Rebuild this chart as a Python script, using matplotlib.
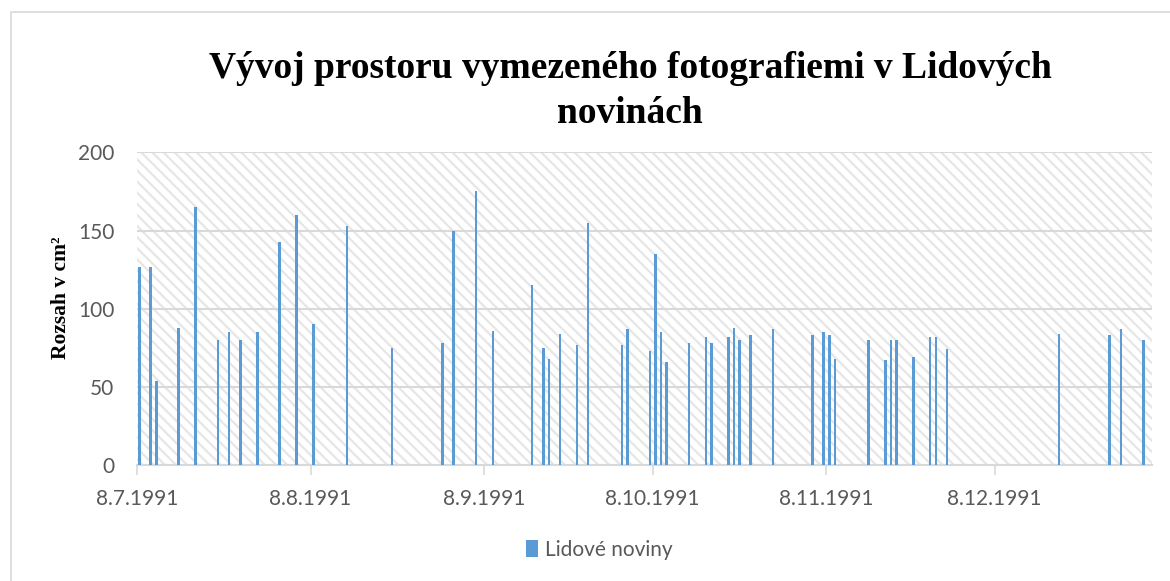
import numpy as np
import matplotlib.pyplot as plt
import matplotlib.dates as mdates
from matplotlib.patches import Rectangle

dates = ["1991-07-08", "1991-07-10", "1991-07-11", "1991-07-15", "1991-07-18",
         "1991-07-22", "1991-07-24", "1991-07-26", "1991-07-29", "1991-08-02",
         "1991-08-05", "1991-08-08", "1991-08-14", "1991-08-22", "1991-08-31",
         "1991-09-02", "1991-09-06", "1991-09-09", "1991-09-16", "1991-09-18",
         "1991-09-19", "1991-09-21", "1991-09-24", "1991-09-26", "1991-10-02",
         "1991-10-03", "1991-10-07", "1991-10-08", "1991-10-09", "1991-10-10",
         "1991-10-14", "1991-10-17", "1991-10-18", "1991-10-21", "1991-10-22",
         "1991-10-23", "1991-10-25", "1991-10-29", "1991-11-05", "1991-11-07",
         "1991-11-08", "1991-11-09", "1991-11-15", "1991-11-18", "1991-11-19",
         "1991-11-20", "1991-11-23", "1991-11-26", "1991-11-27", "1991-11-29",
         "1991-12-19", "1991-12-28", "1991-12-30", "1992-01-03"]
values = [127, 127, 54, 88, 165,
          80, 85, 80, 85, 143,
          160, 90, 153, 75, 78,
          150, 175, 86, 115, 75,
          68, 84, 77, 155, 77,
          87, 73, 135, 85, 66,
          78, 82, 78, 82, 88,
          80, 83, 87, 83, 85,
          83, 68, 80, 67, 80,
          80, 69, 82, 82, 74,
          84, 83, 87, 80]
tick_dates = ["1991-07-08", "1991-08-08", "1991-09-08", "1991-10-08", "1991-11-08", "1991-12-08"]
tick_labels = ["8.7.1991", "8.8.1991", "8.9.1991", "8.10.1991", "8.11.1991", "8.12.1991"]
series_name = "Lidové noviny"

plt.rcParams['hatch.linewidth'] = 1.6
plt.rcParams['hatch.color'] = '#e6e6e6'

fig = plt.figure(figsize=(11.7, 5.81), dpi=100)
fig.patches.append(Rectangle((11/1170, -0.01), 1.0, 1 - 12/581 + 0.01, transform=fig.transFigure,
                             fill=False, edgecolor='#d9d9d9', lw=1.2))

ax = fig.add_axes([136.7/1170, 1 - 465.3/581, (1151.7 - 136.7)/1170, (465.3 - 152.3)/581])

x = mdates.datestr2num(dates) + 0.5
x0 = mdates.datestr2num("1991-07-08")
ax.set_xlim(x0, x0 + 181)
ax.set_ylim(0, 200)

ax.add_patch(Rectangle((0, 0), 1, 1, transform=ax.transAxes, facecolor='white',
                       edgecolor='#e6e6e6', hatch='\\\\\\', lw=0, zorder=0))
for v in range(0, 201, 50):
    ax.axhline(v, color='#d9d9d9', lw=1.5, zorder=1)

bars = ax.bar(x, values, width=0.45, color='#5b9bd5', lw=0, zorder=3, label=series_name)

for s in ['top', 'right', 'left']:
    ax.spines[s].set_visible(False)
ax.spines['bottom'].set_color('#d9d9d9')
ax.spines['bottom'].set_linewidth(1.5)

ax.set_xticks(mdates.datestr2num(tick_dates))
ax.set_xticklabels(tick_labels)
ax.set_yticks(range(0, 201, 50))
ax.tick_params(axis='x', length=7, width=1.2, color='#d9d9d9', labelcolor='#595959',
               labelsize=15, pad=10)
ax.tick_params(axis='y', length=0, labelcolor='#595959', labelsize=15, pad=16)
for lab in ax.get_xticklabels() + ax.get_yticklabels():
    lab.set_family('Lato')

fig.text(630/1170, 1 - 91/581, "Vývoj prostoru vymezeného fotografiemi v Lidových\nnovinách",
         ha='center', va='center', family='Liberation Serif', weight='bold',
         fontsize=27, linespacing=1.38)
fig.text(61/1170, 1 - 298/581, "Rozsah v cm²", rotation=90, ha='center', va='center',
         family='Liberation Serif', weight='bold', fontsize=15.5)

leg = fig.legend(handles=[bars], labels=[series_name], loc='center',
                 bbox_to_anchor=(599/1170, 1 - 550/581), frameon=False,
                 handlelength=0.6, handleheight=0.9, handletextpad=0.3,
                 prop={'family': 'Lato', 'size': 15})
for t in leg.get_texts():
    t.set_color('#595959')

fig.savefig("out.png", dpi=100)
